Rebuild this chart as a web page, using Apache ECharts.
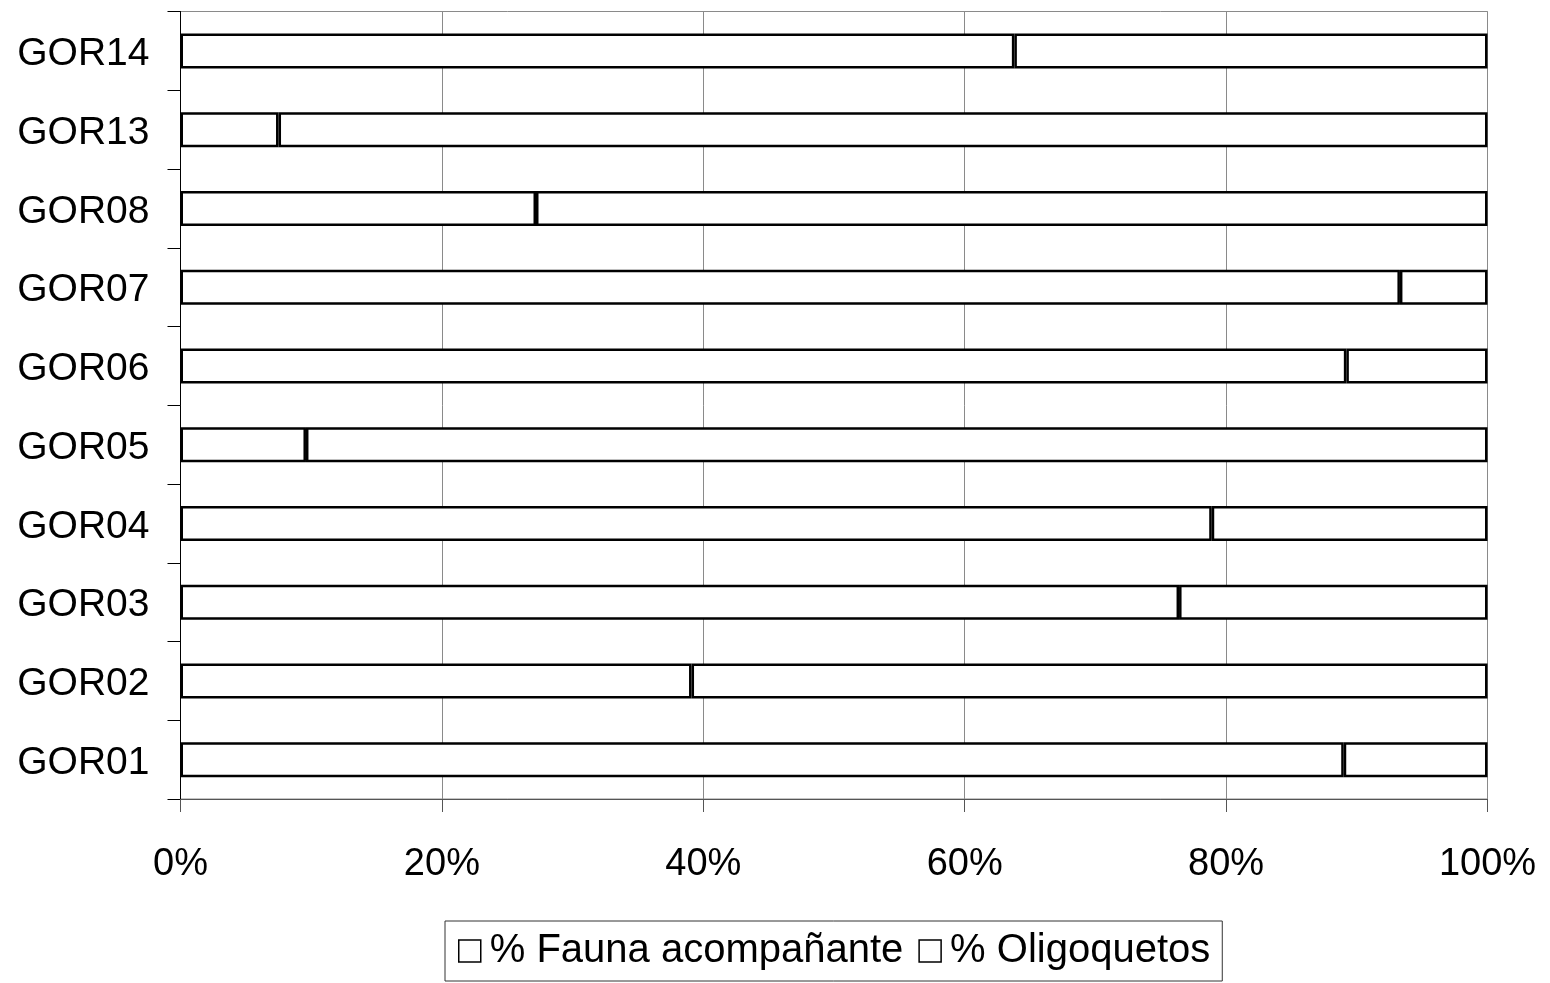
<!DOCTYPE html>
<html>
<head>
<meta charset="utf-8">
<title>% Fauna acompañante / % Oligoquetos</title>
<script src="https://cdn.jsdelivr.net/npm/echarts@6/dist/echarts.min.js"></script>
<style>
  html, body { margin: 0; padding: 0; background: #fff; }
  #chart { width: 1550px; height: 983px; }
</style>
</head>
<body>
<div id="chart"></div>
<script>
// Sampling stations, bottom to top
const stations = ['GOR01', 'GOR02', 'GOR03', 'GOR04', 'GOR05', 'GOR06', 'GOR07', 'GOR08', 'GOR13', 'GOR14'];
// Percentage of accompanying fauna per station
const faunaPct = [89.0, 39.1, 76.4, 78.9, 9.6, 89.2, 93.3, 27.2, 7.5, 63.8];
// Percentage of oligochaetes per station (remainder to 100%)
const oligoPct = [11.0, 60.9, 23.6, 21.1, 90.4, 10.8, 6.7, 72.8, 92.5, 36.2];
const seriesNames = ['% Fauna acompañante', '% Oligoquetos'];

const FONT = '"Liberation Sans", Arial, sans-serif';

const chart = echarts.init(document.getElementById('chart'), null, { renderer: 'canvas' });

const barStyle = {
  color: '#ffffff',
  borderColor: '#000000',
  borderWidth: 2.5
};

chart.setOption({
  animation: false,
  backgroundColor: '#ffffff',
  textStyle: { fontFamily: FONT, color: '#000' },
  grid: {
    left: 180.5,
    right: 62.5,
    top: 11.5,
    bottom: 184,
    show: true,
    borderColor: '#8a8a8a',
    borderWidth: 1,
    containLabel: false
  },
  legend: {
    data: seriesNames,
    left: 445,
    top: 921,
    orient: 'horizontal',
    padding: [10, 12, 10, 13],
    itemGap: 15,
    itemWidth: 22,
    itemHeight: 22,
    borderColor: '#333',
    borderWidth: 1,
    icon: 'rect',
    textStyle: { fontFamily: FONT, fontSize: 40, color: '#000', padding: [0, 0, 0, 4] },
    itemStyle: { color: '#fff', borderColor: '#000', borderWidth: 1.5 }
  },
  xAxis: {
    type: 'value',
    min: 0,
    max: 100,
    interval: 20,
    axisLine: { show: true, lineStyle: { color: '#555', width: 1 } },
    axisTick: { show: true, length: 13, lineStyle: { color: '#555', width: 1 } },
    axisLabel: {
      formatter: v => v + '%',
      fontFamily: FONT,
      fontSize: 38,
      color: '#000',
      margin: 47
    },
    splitLine: { show: true, lineStyle: { color: '#8a8a8a', width: 1 } }
  },
  yAxis: {
    type: 'category',
    data: stations,
    axisLine: { show: true, lineStyle: { color: '#000', width: 1 } },
    axisTick: { show: true, length: 13, alignWithLabel: false, lineStyle: { color: '#000', width: 1 } },
    axisLabel: {
      margin: 31,
      formatter: v => '{st|' + v + '}',
      rich: {
        st: {
          fontFamily: FONT,
          fontSize: 39,
          color: '#000',
          padding: [7, 0, 0, 0]
        }
      }
    },
    splitLine: { show: false }
  },
  series: [
    {
      name: seriesNames[0],
      type: 'bar',
      stack: 'total',
      barWidth: 35,
      data: faunaPct,
      itemStyle: barStyle
    },
    {
      name: seriesNames[1],
      type: 'bar',
      stack: 'total',
      barWidth: 35,
      data: oligoPct,
      itemStyle: barStyle
    }
  ]
});
</script>
</body>
</html>
